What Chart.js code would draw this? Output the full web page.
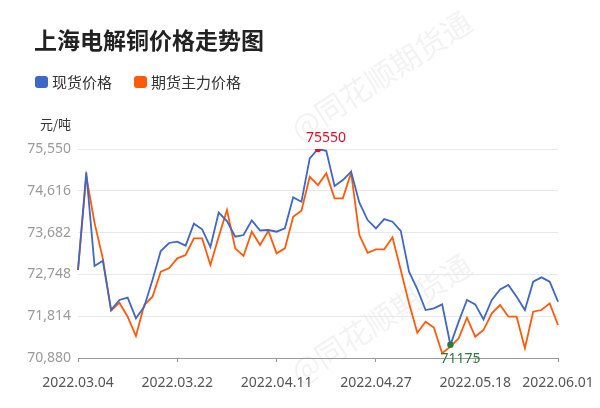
<!DOCTYPE html>
<html>
<head>
<meta charset="utf-8">
<script src="https://cdn.jsdelivr.net/npm/chart.js@4/dist/chart.umd.min.js"></script>
<style>
  body { margin: 0; background: #fff; }
  .wrap { position: relative; width: 600px; height: 408px; font-family: "Noto Sans CJK SC", "Noto Sans", sans-serif; }
  #chart { position: absolute; left: 0; top: 0; }
  .title { position: absolute; left: 34px; top: 22px; font-size: 23px; font-weight: bold; color: #222; }
  .legend { position: absolute; left: 35px; top: 71px; display: flex; font-size: 15px; color: #333; }
  .legend span { display: flex; align-items: center; margin-right: 22px; }
  .legend i { display: inline-block; width: 13px; height: 12px; border-radius: 3px; margin-right: 4px; }
</style>
</head>
<body>
<div class="wrap">
  <canvas id="chart" width="600" height="408"></canvas>
  <div class="title">上海电解铜价格走势图</div>
  <div class="legend" id="legend"></div>
</div>
<script>
const dates = [
  '2022.03.04', '2022.03.07', '2022.03.08', '2022.03.09', '2022.03.10', '2022.03.11',
  '2022.03.14', '2022.03.15', '2022.03.16', '2022.03.17', '2022.03.18', '2022.03.21',
  '2022.03.22', '2022.03.23', '2022.03.24', '2022.03.25', '2022.03.28', '2022.03.29',
  '2022.03.30', '2022.03.31', '2022.04.01', '2022.04.06', '2022.04.07', '2022.04.08',
  '2022.04.11', '2022.04.12', '2022.04.13', '2022.04.14', '2022.04.15', '2022.04.18',
  '2022.04.19', '2022.04.20', '2022.04.21', '2022.04.22', '2022.04.25', '2022.04.26',
  '2022.04.27', '2022.04.28', '2022.04.29', '2022.05.05', '2022.05.06', '2022.05.09',
  '2022.05.10', '2022.05.11', '2022.05.12', '2022.05.13', '2022.05.16', '2022.05.17',
  '2022.05.18', '2022.05.19', '2022.05.20', '2022.05.23', '2022.05.24', '2022.05.25',
  '2022.05.26', '2022.05.27', '2022.05.30', '2022.05.31', '2022.06.01'
];

const spotPrice = [
  72846, 75029, 72935, 73054, 71952, 72176, 72228, 71767, 72026, 72623,
  73270, 73450, 73478, 73390, 73880, 73755, 73360, 74130, 73940, 73590,
  73628, 73955, 73730, 73740, 73702, 73777, 74470, 74372, 75341, 75550,
  75510, 74722, 74856, 75042, 74350, 73963, 73777, 73985, 73926, 73720,
  72808, 72420, 71952, 71990, 72079, 71175, 71692, 72176, 72079, 71744,
  72176, 72414, 72511, 72250, 71952, 72585, 72682, 72585, 72138
];

const futuresPrice = [
  72846, 74946, 73900, 73100, 71937, 72116, 71803, 71371, 72064, 72250,
  72808, 72884, 73107, 73181, 73554, 73553, 72958, 73590, 74186, 73330,
  73159, 73702, 73404, 73720, 73219, 73330, 74037, 74171, 74930, 74745,
  75006, 74448, 74448, 75020, 73628, 73232, 73308, 73308, 73576, 72846,
  72101, 71446, 71692, 71560, 70985, 71133, 71320, 71780, 71356, 71505,
  71878, 72064, 71803, 71803, 71097, 71915, 71952, 72101, 71617
];

const yTicks = [70880, 71814, 72748, 73682, 74616, 75550];
const labelIdx = [0, 12, 24, 36, 48, 58];
const seriesNames = ['现货价格', '期货主力价格'];
const seriesColors = ['#3f67c6', '#ff5a0a'];

const maxIdx = spotPrice.indexOf(Math.max(...spotPrice));
const minIdx = spotPrice.indexOf(Math.min(...spotPrice));

// html legend
document.getElementById('legend').innerHTML = seriesNames
  .map((n, i) => '<span><i style="background:' + seriesColors[i] + '"></i>' + n + '</span>')
  .join('');

const extras = {
  id: 'extras',
  beforeDraw(chart) {
    const ctx = chart.ctx;
    ctx.save();
    ctx.fillStyle = 'rgba(0,0,0,0.05)';
    ctx.font = '30px "Noto Sans CJK SC"';
    [[300, 142], [300, 385]].forEach(p => {
      ctx.save();
      ctx.translate(p[0], p[1]);
      ctx.rotate(-33 * Math.PI / 180);
      ctx.fillText('@同花顺期货通', 0, 0);
      ctx.restore();
    });
    ctx.restore();
  },
  afterDraw(chart) {
    const ctx = chart.ctx;
    const pts = chart.getDatasetMeta(0).data;
    ctx.save();
    ctx.font = '13px "Noto Sans CJK SC"';
    ctx.fillStyle = '#333';
    ctx.textAlign = 'right';
    ctx.textBaseline = 'middle';
    ctx.fillText('元/吨', 71, 124);

    ctx.font = '14px "Noto Sans"';
    ctx.textAlign = 'left';
    ctx.fillStyle = '#e0102a';
    ctx.fillText(String(spotPrice[maxIdx]), pts[maxIdx].x - 12, pts[maxIdx].y - 11);
    ctx.fillStyle = '#2b7a3b';
    ctx.fillText(String(spotPrice[minIdx]), pts[minIdx].x - 10, pts[minIdx].y + 14);
    ctx.restore();
  }
};

new Chart(document.getElementById('chart'), {
  type: 'line',
  data: {
    labels: dates,
    datasets: [
      {
        label: seriesNames[0],
        data: spotPrice,
        borderColor: seriesColors[0],
        borderWidth: 1.8,
        tension: 0,
        pointRadius: ctx => (ctx.dataIndex === maxIdx || ctx.dataIndex === minIdx) ? 3.2 : 0,
        pointBackgroundColor: ctx => ctx.dataIndex === maxIdx ? '#e0102a' : '#2b7a3b',
        pointBorderWidth: 0
      },
      {
        label: seriesNames[1],
        data: futuresPrice,
        borderColor: seriesColors[1],
        borderWidth: 1.8,
        tension: 0,
        pointRadius: 0
      }
    ]
  },
  options: {
    responsive: false,
    animation: false,
    layout: { padding: { top: 149, right: 42, left: 0, bottom: 0 } },
    plugins: {
      legend: { display: false },
      tooltip: { enabled: false }
    },
    scales: {
      x: {
        offset: false,
        afterFit: s => { s.height = 50; s.paddingRight = 0; s.paddingLeft = 0; },
        border: { color: '#999' },
        grid: {
          drawOnChartArea: false,
          tickLength: 4,
          color: ctx => labelIdx.includes(ctx.index) ? '#999' : 'rgba(0,0,0,0)'
        },
        ticks: {
          autoSkip: false,
          maxRotation: 0,
          padding: 13,
          color: '#555',
          font: { family: 'Noto Sans', size: 14 },
          callback: (v, i) => labelIdx.includes(i) ? dates[i] : ''
        }
      },
      y: {
        min: yTicks[0],
        max: yTicks[yTicks.length - 1],
        afterFit: s => { s.width = 78; },
        afterBuildTicks: s => { s.ticks = yTicks.map(v => ({ value: v })); },
        border: { display: false },
        grid: { color: '#e8e8e8', drawTicks: false },
        ticks: {
          padding: 7,
          color: '#999',
          font: { family: 'Noto Sans', size: 14 },
          callback: v => v.toLocaleString('en-US')
        }
      }
    }
  },
  plugins: [extras]
});
</script>
</body>
</html>
